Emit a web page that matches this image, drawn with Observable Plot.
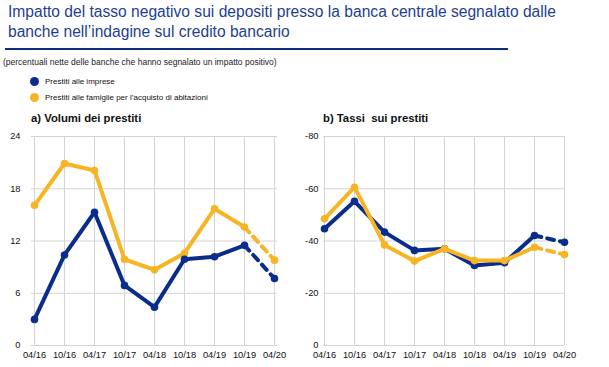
<!DOCTYPE html>
<html>
<head>
<meta charset="utf-8">
<script src="https://cdn.jsdelivr.net/npm/d3@7"></script>
<script src="https://cdn.jsdelivr.net/npm/@observablehq/plot@0.6"></script>
<style>
  body { margin: 0; background: #fff; font-family: "Liberation Sans", Arial, sans-serif; }
  #wrap { position: relative; width: 609px; height: 367px; overflow: hidden; }
  .title { position: absolute; left: 8px; top: 2px; font-size: 15.6px; line-height: 20px; color: #1e3f8f; white-space: nowrap; }
  .rule { position: absolute; left: 5px; top: 48px; width: 503px; height: 2px; background: #0d2f7e; }
  .sub { position: absolute; left: 3px; top: 57px; font-size: 8.5px; color: #222; white-space: nowrap; }
  .leg { position: absolute; left: 30px; font-size: 8px; color: #111; white-space: nowrap; }
  .leg span.dot { display: inline-block; width: 9px; height: 9px; border-radius: 50%; vertical-align: -2px; margin-right: 6px; }
  .ptitle { position: absolute; top: 112px; font-size: 11.3px; font-weight: bold; color: #111; white-space: nowrap; }
  .panel { position: absolute; top: 128px; }
</style>
</head>
<body>
<div id="wrap">
  <div class="title">Impatto del tasso negativo sui depositi presso la banca centrale segnalato dalle<br>banche nell’indagine sul credito bancario</div>
  <div class="rule"></div>
  <div class="sub">(percentuali nette delle banche che hanno segnalato un impatto positivo)</div>
  <div class="leg" style="top:77px"><span class="dot" style="background:#0a2d8c"></span>Prestiti alle imprese</div>
  <div class="leg" style="top:93px"><span class="dot" style="background:#f7b424"></span>Prestiti alle famiglie per l’acquisto di abitazioni</div>
  <div class="ptitle" style="left:31px">a) Volumi dei prestiti</div>
  <div class="ptitle" style="left:323px">b) Tassi&nbsp; sui prestiti</div>
  <div class="panel" id="pa" style="left:0px"></div>
  <div class="panel" id="pb" style="left:291px"></div>
</div>
<script>
const dates = ["04/16","10/16","04/17","10/17","04/18","10/18","04/19","10/19","04/20"];
const volumiImprese  = [3.0, 10.4, 15.3, 6.9, 4.4, 9.9, 10.2, 11.5, 7.7];
const volumiFamiglie = [16.1, 20.9, 20.1, 9.9, 8.7, 10.6, 15.7, 13.6, 9.8];
const tassiImprese   = [-44.7, -55.2, -43.4, -36.4, -37.0, -30.6, -31.7, -42.1, -39.5];
const tassiFamiglie  = [-48.5, -60.6, -38.5, -32.3, -37.0, -32.5, -32.5, -37.6, -34.8];
const volumiTicks = [0, 6, 12, 18, 24];
const tassiTicks = [0, -20, -40, -60, -80];

const BLUE = "#0a2d8c", YELLOW = "#f7b424";

function rows(vals) { return dates.map((d, i) => ({ d, v: vals[i] })); }

function seriesMarks(vals, color) {
  const r = rows(vals);
  const solid = r.slice(0, r.length - 1);
  const dashed = r.slice(r.length - 2);
  return [
    Plot.line(solid, { x: "d", y: "v", stroke: color, strokeWidth: 4, strokeLinejoin: "round", strokeLinecap: "round" }),
    Plot.line(dashed, { x: "d", y: "v", stroke: color, strokeWidth: 4, strokeDasharray: "7,6", strokeLinecap: "round" }),
    Plot.dot(r, { x: "d", y: "v", fill: color, r: 3.8 })
  ];
}

function panel(opts) {
  return Plot.plot({
    width: opts.width, height: 240,
    marginTop: 8, marginBottom: 23, marginLeft: opts.ml, marginRight: opts.mr,
    style: { fontFamily: "Liberation Sans, Arial, sans-serif", fontSize: "9px", color: "#111", background: "transparent" },
    x: { type: "point", domain: dates, padding: 0, label: null },
    y: { domain: opts.domain, reverse: opts.reverse, ticks: opts.ticks, label: null },
    marks: [
      Plot.gridX(dates, { stroke: "#d4d4d4", strokeOpacity: 1, strokeWidth: 1 }),
      Plot.gridY(opts.ticks, { stroke: "#d4d4d4", strokeOpacity: 1, strokeWidth: 1 }),
      Plot.axisX({ tickSize: 0, tickPadding: 6, fontSize: 9.3 }),
      Plot.axisY(opts.ticks, { tickSize: 0, tickPadding: opts.tp, fontSize: 9.3, tickFormat: (d) => String(d) }),
      ...opts.order.flatMap(([vals, c]) => seriesMarks(vals, c))
    ]
  });
}

document.getElementById("pa").append(panel({
  width: 295, ml: 31, mr: 18, domain: [0, 24], reverse: false, ticks: volumiTicks, tp: 11,
  order: [[volumiFamiglie, YELLOW], [volumiImprese, BLUE]]
}));
document.getElementById("pb").append(panel({
  width: 293, ml: 32, mr: 20, domain: [-80, 0], reverse: true, ticks: tassiTicks, tp: 5,
  order: [[tassiImprese, BLUE], [tassiFamiglie, YELLOW]]
}));
</script>
</body>
</html>
